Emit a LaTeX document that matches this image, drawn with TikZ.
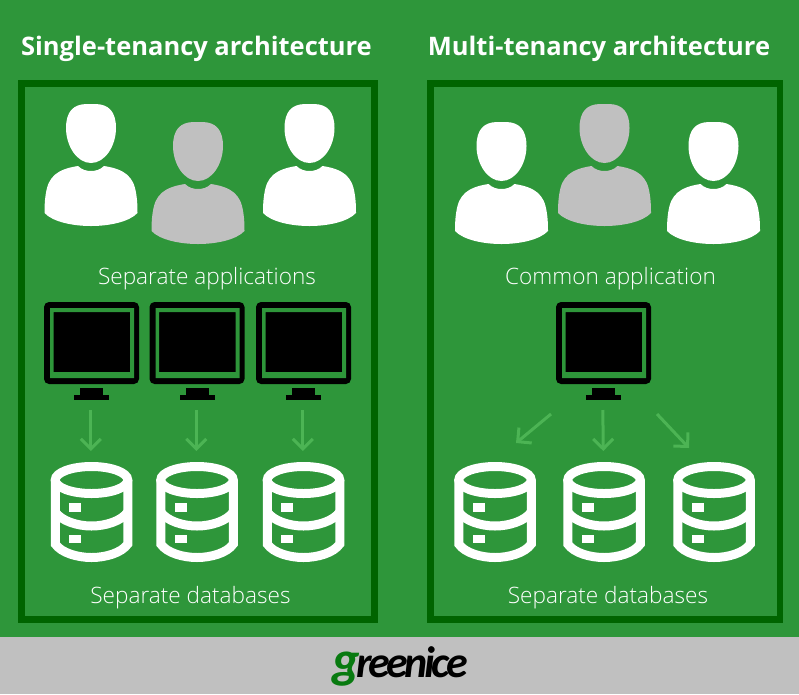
\documentclass[tikz,border=0pt]{standalone}
\usepackage{fontspec}
\usepackage{tikz}
\usetikzlibrary{arrows.meta}
\setmainfont{Open Sans}
\newfontfamily\thinfont{Open Sans Light}
\newfontfamily\logofont[LetterSpace=-8]{Carlito}

\definecolor{bggreen}{RGB}{46,150,58}
\definecolor{framegreen}{RGB}{0,100,0}
\definecolor{flowgreen}{RGB}{76,180,84}
\definecolor{barsilver}{RGB}{192,192,192}
\definecolor{logogreen}{RGB}{8,122,16}

\tikzset{
  title/.style={text=white,font=\fontsize{25.5}{28}\selectfont\bfseries,anchor=base},
  caption/.style={text=white,font=\thinfont\fontsize{22.6}{25}\selectfont,anchor=base},
  tenantframe/.style={draw=framegreen,line width=6.7pt},
  flow/.style={draw=flowgreen,line width=3pt,-{Straight Barb[length=10pt,width=20pt,line width=3pt]}},
  person/.pic={
    \fill (-25,24) .. controls (-25,8) and (-18,0) .. (-4,0) -- (4,0)
      .. controls (18,0) and (25,8) .. (25,24)
      .. controls (25,42) and (14,59) .. (0,59)
      .. controls (-14,59) and (-25,42) .. (-25,24) -- cycle;
    \fill (-13,62) .. controls (-9,66) and (-4,67) .. (0,67)
      .. controls (4,67) and (9,66) .. (13,62)
      .. controls (26,64) and (40,68) .. (44,84)
      .. controls (46,92) and (46.5,100) .. (46.5,109)
      .. controls (38,118) and (18,122) .. (0,122)
      .. controls (-18,122) and (-38,118) .. (-46.5,109)
      .. controls (-46.5,100) and (-46,92) .. (-44,84)
      .. controls (-40,68) and (-26,64) .. (-13,62) -- cycle;
  },
  monitor/.pic={
    \fill[black,rounded corners=5pt] (-47.5,0) rectangle (47.5,82);
    \fill[bggreen,even odd rule] (-41.5,6) rectangle (42.5,76) (-38,10) rectangle (38.5,70);
    \fill[black] (-11.5,86) rectangle (11.5,93);
    \fill[black] (-17.5,93) rectangle (17.5,98);
    \coordinate (-low) at (-0.7,108);
  },
  database/.pic={
    \draw[white,line width=9pt] (0,18) ellipse [x radius=36.25,y radius=13.5];
    \draw[white,line width=9pt] (-36.25,18) -- (-36.25,82)
      .. controls (-30,91) and (-14,95.5) .. (0,95.5)
      .. controls (14,95.5) and (30,91) .. (36.25,82) -- (36.25,18);
    \draw[white,line width=9pt] (-36.25,50)
      .. controls (-30,59) and (-14,64) .. (0,64)
      .. controls (14,64) and (30,59) .. (36.25,50);
    \fill[white] (-22.5,41) rectangle (-10.5,50);
    \fill[white] (-22.5,73) rectangle (-10.5,81);
    \coordinate (-high) at (-0.7,-11);
  }
}

\begin{document}
\begin{tikzpicture}[x=1pt,y=-1pt,>=stealth]
\useasboundingbox (0,0) rectangle (799,694);
\fill[bggreen] (0,0) rectangle (799,637);
\fill[barsilver] (0,637) rectangle (799,694);

\node[title] (lefttitle) at (196.5,55) {Single-tenancy architecture};
\node[title] (righttitle) at (599,55) {Multi-tenancy architecture};

\draw[tenantframe] (21.7,83.3) rectangle (374.3,619.3);
\draw[tenantframe] (430.7,83.3) rectangle (780,619.3);

% users
\pic[white] (u1) at (91,104) {person};
\pic[barsilver] (u2) at (198,122) {person};
\pic[white] (u3) at (309.5,104) {person};
\pic[white] (u4) at (501.5,122) {person};
\pic[barsilver] (u5) at (604.5,104) {person};
\pic[white] (u6) at (713.5,122) {person};

\node[caption] (leftapps) at (207,284) {Separate applications};
\node[caption] (rightapp) at (610.5,284) {Common application};

% monitors
\pic (m1) at (91.5,302) {monitor};
\pic (m2) at (197,302) {monitor};
\pic (m3) at (303.5,302) {monitor};
\pic (m4) at (603.5,302) {monitor};

% databases
\pic (d1) at (91.5,462) {database};
\pic (d2) at (197,462) {database};
\pic (d3) at (303.5,462) {database};
\pic (d4) at (495,462) {database};
\pic (d5) at (604,462) {database};
\pic (d6) at (714,462) {database};

\coordinate (m4w) at (551,414);
\coordinate (m4e) at (657,414);
\coordinate (d4n) at (516,443);
\coordinate (d6n) at (689,448);

\draw[flow] (m1-low) -- (d1-high);
\draw[flow] (m2-low) -- (d2-high);
\draw[flow] (m3-low) -- (d3-high);
\draw[flow] (m4-low) -- (d5-high);
\draw[flow] (m4w) -- (d4n);
\draw[flow] (m4e) -- (d6n);

\node[caption] (leftdbs) at (190.5,603) {Separate databases};
\node[caption] (rightdbs) at (608,603) {Separate databases};

\node[anchor=base,inner sep=0pt] (logo) at (400,677)
  {\logofont\bfseries\itshape\fontsize{44}{44}\selectfont\textcolor{logogreen}{\fontsize{52}{52}\selectfont g}\kern-3pt reenice};
\end{tikzpicture}
\end{document}
